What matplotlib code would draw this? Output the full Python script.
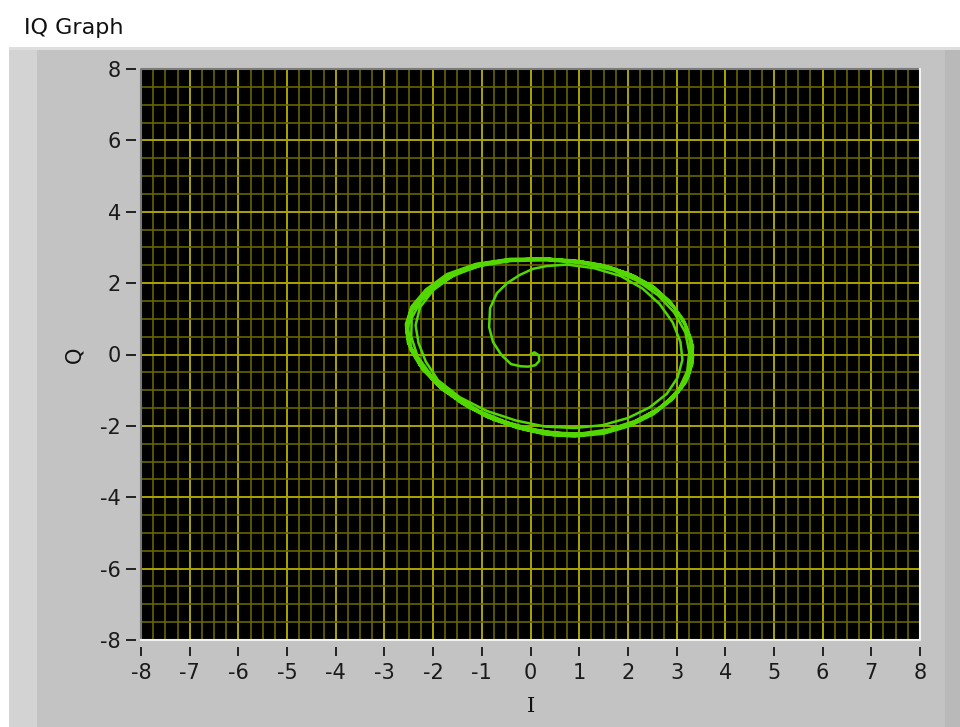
import numpy as np
import matplotlib
matplotlib.use('Agg')
import matplotlib.pyplot as plt
from matplotlib.ticker import MultipleLocator
from matplotlib.patches import Rectangle

plt.rcParams['font.family'] = ['DejaVu Sans']
plt.rcParams['axes.unicode_minus'] = False

# start-up spiral from the origin out to the ring
spiral_i = [0.0, 0.08, 0.17, 0.18, 0.1, -0.05, -0.2, -0.4, -0.6, -0.77, -0.85, -0.83, -0.69, -0.48, -0.22, 0.05, 0.34, 0.75]
spiral_q = [0.0, 0.06, -0.02, -0.18, -0.3, -0.34, -0.33, -0.27, -0.01, 0.35, 0.77, 1.30, 1.72, 2.0, 2.23, 2.40, 2.48, 2.52]

# successive turns of the ring (clockwise, starting near the top)
ring1_i = [1.3, 1.85, 2.3, 2.65, 2.92, 3.08, 3.12, 3.02, 2.8, 2.45, 2.0, 1.48, 0.9, 0.3, -0.3, -0.9, -1.45, -1.9, -2.15, -2.3, -2.36, -2.27, -2.0, -1.6, -1.05, -0.4, 0.35]
ring1_q = [2.42, 2.2, 1.85, 1.42, 0.9, 0.35, -0.15, -0.65, -1.1, -1.48, -1.78, -1.98, -2.06, -2.02, -1.85, -1.58, -1.2, -0.72, -0.2, 0.32, 0.82, 1.32, 1.8, 2.2, 2.48, 2.62, 2.64]
ring2_i = [1.1, 1.7, 2.2, 2.62, 2.95, 3.18, 3.26, 3.22, 3.05, 2.75, 2.35, 1.88, 1.32, 0.72, 0.12, -0.48, -1.05, -1.58, -2.02, -2.32, -2.45, -2.44, -2.25, -1.9, -1.4, -0.78, -0.05]
ring2_q = [2.55, 2.36, 2.06, 1.66, 1.18, 0.62, 0.06, -0.46, -0.96, -1.4, -1.76, -2.04, -2.2, -2.22, -2.12, -1.9, -1.58, -1.15, -0.62, -0.05, 0.5, 1.02, 1.5, 1.96, 2.34, 2.58, 2.68]
ring3_i = [1.0, 1.6, 2.12, 2.56, 2.92, 3.18, 3.3, 3.32, 3.2, 2.95, 2.58, 2.1, 1.55, 0.95, 0.35, -0.25, -0.85, -1.4, -1.9, -2.27, -2.48, -2.53, -2.42, -2.12, -1.68, -1.1, -0.4, 0.4]
ring3_q = [2.6, 2.45, 2.2, 1.84, 1.38, 0.86, 0.32, -0.18, -0.7, -1.16, -1.56, -1.9, -2.14, -2.25, -2.2, -2.03, -1.75, -1.36, -0.86, -0.3, 0.25, 0.75, 1.25, 1.75, 2.2, 2.5, 2.66, 2.68]
ring4_i = [1.02, 1.62, 2.14, 2.6, 2.96, 3.2, 3.34, 3.3, 3.17, 2.9, 2.52, 2.05, 1.5, 0.9, 0.3, -0.3, -0.9, -1.45, -1.95, -2.3, -2.52, -2.56, -2.44, -2.15, -1.72, -1.12, -0.42, 0.38]
ring4_q = [2.58, 2.42, 2.15, 1.78, 1.3, 0.78, 0.22, -0.3, -0.82, -1.28, -1.68, -2.0, -2.22, -2.3, -2.24, -2.05, -1.74, -1.32, -0.8, -0.22, 0.34, 0.85, 1.35, 1.82, 2.25, 2.54, 2.68, 2.68]
ring5_i = [0.85, 1.45, 2.0, 2.48, 2.86, 3.14, 3.3, 3.34, 3.25, 3.02, 2.66, 2.2, 1.66, 1.06, 0.46, -0.14, -0.74, -1.3, -1.82, -2.22, -2.47, -2.55, -2.48, -2.22, -1.8, -1.24, -0.55, 0.2]
ring5_q = [2.64, 2.52, 2.28, 1.94, 1.5, 0.98, 0.44, -0.08, -0.6, -1.08, -1.5, -1.86, -2.12, -2.26, -2.26, -2.1, -1.84, -1.46, -0.98, -0.42, 0.14, 0.66, 1.16, 1.66, 2.1, 2.45, 2.64, 2.68]
ring6_i = [1.0, 1.58, 2.1, 2.55, 2.9, 3.15, 3.28, 3.3, 3.22, 2.98, 2.62, 2.15, 1.6, 1.0, 0.4, -0.2, -0.8, -1.35, -1.85, -2.22, -2.45, -2.52, -2.44, -2.16, -1.72, -1.14, -0.45, 0.35]
ring6_q = [2.62, 2.47, 2.22, 1.88, 1.42, 0.92, 0.38, -0.12, -0.62, -1.1, -1.52, -1.86, -2.1, -2.22, -2.18, -2.02, -1.76, -1.4, -0.92, -0.36, 0.2, 0.72, 1.22, 1.72, 2.16, 2.48, 2.65, 2.67]
ring7_i = [1.0, 1.6, 2.12, 2.57, 2.93, 3.18, 3.32, 3.33, 3.2, 2.93, 2.55, 2.08, 1.52, 0.92, 0.32, -0.28, -0.88, -1.42, -1.92, -2.28, -2.5, -2.55, -2.45, -2.15, -1.7, -1.12, -0.42, 0.38, 1.05, 1.65, 2.18]
ring7_q = [2.6, 2.44, 2.18, 1.82, 1.35, 0.82, 0.27, -0.25, -0.76, -1.22, -1.63, -1.96, -2.19, -2.28, -2.22, -2.04, -1.76, -1.36, -0.85, -0.28, 0.28, 0.8, 1.3, 1.78, 2.22, 2.52, 2.67, 2.68, 2.6, 2.44, 2.17]

x_ticks = list(range(-8, 9, 1))
y_ticks = list(range(-8, 9, 2))

fig = plt.figure(figsize=(9.6, 7.27), dpi=100, facecolor='white')

# LabVIEW style grey panel
W, H = 960.0, 727.0
panel = [((9, 0), 951, 680, '#c3c3c3'),
         ((9, 0), 28, 680, '#d3d3d3'),
         ((945, 0), 15, 680, '#b9b9b9'),
         ((9, 677), 951, 3, '#dedede')]
for (x0, y0), w, h, c in panel:
    fig.add_artist(Rectangle((x0 / W, y0 / H), w / W, h / H, transform=fig.transFigure,
                             facecolor=c, edgecolor='none', zorder=-10))

fig.text(24 / W, 1 - 28 / H, 'IQ Graph', fontsize=16, color='#111111', va='center', ha='left')

ax = fig.add_axes([141 / W, 1 - 640 / H, 779 / W, 571 / H])
ax.set_facecolor('black')

trace_i = np.concatenate([spiral_i, ring1_i, ring2_i, ring3_i, ring4_i, ring5_i, ring6_i, ring7_i])
trace_q = np.concatenate([spiral_q, ring1_q, ring2_q, ring3_q, ring4_q, ring5_q, ring6_q, ring7_q])
ax.plot(trace_i, trace_q, color='#52d800', lw=1.8, solid_joinstyle='round', zorder=3)

ax.set_xlim(-8, 8)
ax.set_ylim(-8, 8)
ax.set_xticks(x_ticks)
ax.set_yticks(y_ticks)
ax.xaxis.set_minor_locator(MultipleLocator(0.25))
ax.yaxis.set_minor_locator(MultipleLocator(0.5))
ax.set_axisbelow(True)
ax.grid(which='minor', color='#686400', lw=1.2)
ax.grid(which='major', color='#aaa400', lw=1.4)

for s in ax.spines.values():
    s.set_visible(False)
ax.spines['bottom'].set_position(('outward', 5))
ax.spines['left'].set_position(('outward', 3.5))

ax.tick_params(which='minor', length=0)
ax.tick_params(axis='x', which='major', length=6.5, width=1.4, color='#222222', pad=5,
               labelsize=15, labelcolor='#1a1a1a')
ax.tick_params(axis='y', which='major', length=7, width=1.4, color='#222222', pad=4,
               labelsize=15, labelcolor='#1a1a1a')

ax.set_xlabel('I', fontsize=15, family='DejaVu Serif', color='#111111')
ax.xaxis.set_label_coords(0.5, -0.1)
ax.set_ylabel('Q', fontsize=15, color='#111111', va='center')
ax.yaxis.set_label_coords(-0.085, 0.5)

# sunken border around the plot area
ax.plot([0, 0, 1], [0, 1, 1], transform=ax.transAxes, color='#7a7a7a', lw=1.5, clip_on=False, zorder=5)
ax.plot([0, 1, 1], [0, 0, 1], transform=ax.transAxes, color='#f2f2f2', lw=1.5, clip_on=False, zorder=5)

fig.savefig('out.png', dpi=100, facecolor=fig.get_facecolor())
